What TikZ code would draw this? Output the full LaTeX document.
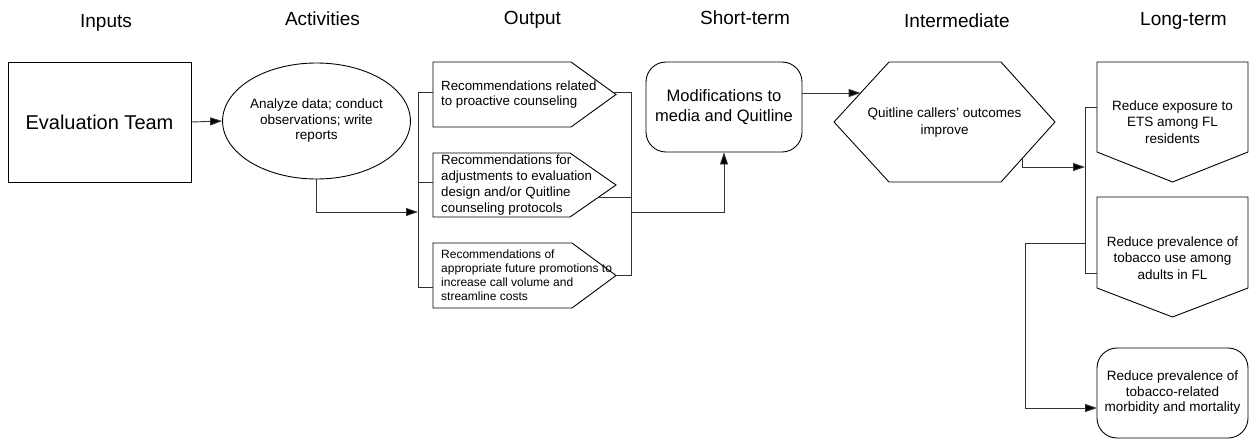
\documentclass[tikz,border=0pt]{standalone}
\usepackage{fontspec}
\setmainfont{Liberation Sans}
\usetikzlibrary{arrows.meta,shapes.geometric}
\begin{document}
\begin{tikzpicture}[x=1pt,y=-1pt,
  shp/.style={draw=black, line width=0.9pt},
  conn/.style={draw=black!80, line width=0.9pt},
  arr/.style={conn, -{Triangle[length=12pt,width=8pt,fill=black]}},
  hdr/.style={font=\fontsize{19}{22}\selectfont, anchor=base, inner sep=0pt},
  outtxt/.style={anchor=west, align=left, inner sep=0pt, font=\fontsize{13.3}{15.8}\selectfont},
  ctxt/.style={align=center, inner sep=0pt, font=\fontsize{13.5}{16.5}\selectfont},
]
\useasboundingbox (0,0) rectangle (1252,441);

% headers
\node[hdr] (h1) at (106,28) {Inputs};
\node[hdr] (h2) at (322.5,26) {Activities};
\node[hdr] (h3) at (532.5,25) {Output};
\node[hdr] (h4) at (745,25) {Short-term};
\node[hdr] (h5) at (957,28) {Intermediate};
\node[hdr] (h6) at (1183.5,26) {Long-term};

% inputs
\node[shp, minimum width=183pt, minimum height=120pt, inner sep=0pt,
      font=\fontsize{20}{24}\selectfont] (ev) at (99.5,122) {Evaluation Team};

% activities
\node[shp, ellipse, minimum width=173pt, minimum height=116pt, inner sep=0pt,
      align=center, font=\fontsize{13.5}{15.5}\selectfont] (an) at (316.5,121)
      {Analyze data; conduct\\observations; write\\reports};

% outputs
\draw[shp] (433,62) -- (571,62) -- (616,94.5) -- (571,127) -- (433,127) -- cycle;
\node[outtxt] (o1) at (441,94.5) {Recommendations related\\to proactive counseling};
\draw[shp] (433,153) -- (570,153) -- (616,185) -- (570,217) -- (433,217) -- cycle;
\node[outtxt] (o2) at (441,185) {Recommendations for\\adjustments to evaluation\\design and/or Quitline\\counseling protocols};
\draw[shp] (433,243) -- (572,243) -- (616,275.5) -- (572,308) -- (433,308) -- cycle;
\node[outtxt, font=\fontsize{12}{14}\selectfont] (o3) at (441,275.5) {Recommendations of\\appropriate future promotions to\\increase call volume and\\streamline costs};

% short-term
\node[shp, rounded corners=20pt, minimum width=156pt, minimum height=90pt, inner sep=0pt,
      align=center, font=\fontsize{16.5}{20}\selectfont] (mod) at (724,107)
      {Modifications to\\media and Quitline};

% intermediate
\draw[shp] (834,122) -- (889,62) -- (1001,62) -- (1055,122) -- (1001,182) -- (889,182) -- cycle;
\node[ctxt, font=\fontsize{13.5}{17}\selectfont] (hx) at (944.5,123) {Quitline callers' outcomes\\improve};

% long-term
\draw[shp] (1097,62) -- (1248,62) -- (1248,152) -- (1172.5,182) -- (1097,152) -- cycle;
\node[ctxt] (l1) at (1172.5,122) {Reduce exposure to\\ETS among FL\\residents};
\draw[shp] (1097,197) -- (1248,197) -- (1248,288) -- (1172.5,317) -- (1097,288) -- cycle;
\node[ctxt] (l2) at (1172.5,258) {Reduce prevalence of\\tobacco use among\\adults in FL};
\node[shp, rounded corners=20pt, minimum width=151pt, minimum height=90pt, inner sep=0pt,
      align=center, font=\fontsize{13.5}{15.5}\selectfont] (l3) at (1172.5,393)
      {Reduce prevalence of\\tobacco-related\\morbidity and mortality};

% coordinates for connectors
\coordinate (tin) at (418,212);
\coordinate (t1) at (418,92);
\coordinate (t3) at (418,287);
\coordinate (b1) at (433,92);
\coordinate (b2l) at (418,182);
\coordinate (b2) at (433,182);
\coordinate (b3) at (433,287);
\coordinate (r1s) at (612.5,92);
\coordinate (r1) at (631,92);
\coordinate (r2s) at (599,197);
\coordinate (r2) at (631,197);
\coordinate (r3s) at (616,275);
\coordinate (r3) at (631,275);
\coordinate (rout) at (631,212);
\coordinate (ms) at (802,93);
\coordinate (he) at (860.6,93);
\coordinate (hs) at (1022,158.7);
\coordinate (lin) at (1085,167);
\coordinate (lt) at (1085,107);
\coordinate (lb) at (1085,273);
\coordinate (l1w) at (1097,107);
\coordinate (l2w) at (1097,273);
\coordinate (lm) at (1085,243);
\coordinate (lx) at (1025,243);
\coordinate (l3w) at (1097,408);

% connectors
\draw[arr] (ev.east) -- (an.west);
\draw[arr] (an.south) |- (tin);
\draw[conn] (b1) -- (t1) -- (t3) -- (b3);
\draw[conn] (b2l) -- (b2);
\draw[conn] (r1s) -- (r1) -- (r3) -- (r3s);
\draw[conn] (r2s) -- (r2);
\draw[arr] (rout) -| (mod.south);
\draw[arr] (ms) -- (he);
\draw[arr] (hs) |- (lin);
\draw[conn] (l1w) -- (lt) -- (lb) -- (l2w);
\draw[arr] (lm) -- (lx) |- (l3w);
\end{tikzpicture}
\end{document}
